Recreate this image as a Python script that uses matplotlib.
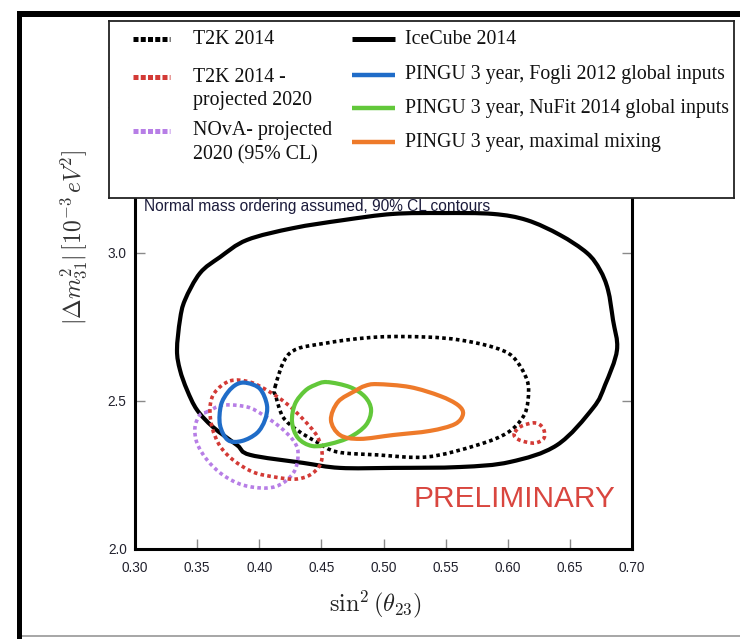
import matplotlib
matplotlib.use("Agg")
import matplotlib.pyplot as plt
from matplotlib.patches import Rectangle, PathPatch
from matplotlib.path import Path

plt.rcParams["mathtext.fontset"] = "cm"

# ---- contour data: sin^2(theta23) vs |dm^2_31| [1e-3 eV^2] ----
icecube_x = [0.5076, 0.5479, 0.5881, 0.6155, 0.6420, 0.6638, 0.6742, 0.6807, 0.6847, 0.6879,
             0.6783, 0.6686, 0.6396, 0.6018, 0.5616, 0.5076, 0.4650, 0.4352, 0.3926, 0.3821,
             0.3628, 0.3499, 0.3419, 0.3362, 0.3338, 0.3362, 0.3402, 0.3523, 0.3684, 0.3901,
             0.4272, 0.4674]
icecube_y = [3.132, 3.135, 3.132, 3.111, 3.061, 3.000, 2.943, 2.875, 2.774, 2.672,
             2.554, 2.476, 2.351, 2.294, 2.277, 2.274, 2.274, 2.291, 2.318, 2.351,
             2.412, 2.470, 2.537, 2.605, 2.672, 2.774, 2.841, 2.932, 2.986, 3.044,
             3.084, 3.111]

t2k_x = [0.4127, 0.4247, 0.4545, 0.4948, 0.5350, 0.5616, 0.5881, 0.6042, 0.6155, 0.6163,
         0.6123, 0.5994, 0.5753, 0.5350, 0.4948, 0.4626, 0.4465, 0.4304, 0.4191, 0.4135]
t2k_y = [2.547, 2.662, 2.696, 2.716, 2.716, 2.706, 2.682, 2.649, 2.571, 2.503,
         2.446, 2.392, 2.351, 2.311, 2.318, 2.328, 2.361, 2.402, 2.446, 2.514]

t2k2020_x = [0.3765, 0.3926, 0.4087, 0.4223, 0.4352, 0.4465, 0.4505, 0.4489, 0.4408, 0.4288,
             0.4127, 0.3950, 0.3789, 0.3684, 0.3620, 0.3604, 0.3644]
t2k2020_y = [2.568, 2.564, 2.530, 2.490, 2.439, 2.382, 2.328, 2.284, 2.250, 2.236,
             2.243, 2.260, 2.301, 2.348, 2.412, 2.480, 2.530]

t2k2020_island_x = [0.6058, 0.6115, 0.6219, 0.6284, 0.6292, 0.6219, 0.6115, 0.6058]
t2k2020_island_y = [2.395, 2.416, 2.426, 2.409, 2.375, 2.358, 2.365, 2.378]

nova_x = [0.3580, 0.3708, 0.3901, 0.4030, 0.4167, 0.4272, 0.4312, 0.4288, 0.4191, 0.4062,
          0.3869, 0.3708, 0.3580, 0.3499, 0.3483, 0.3523]
nova_y = [2.463, 2.486, 2.480, 2.453, 2.412, 2.368, 2.328, 2.267, 2.223, 2.206,
          2.216, 2.250, 2.301, 2.358, 2.412, 2.453]

fogli_x = [0.3901, 0.4006, 0.4062, 0.4046, 0.3982, 0.3861, 0.3748, 0.3684, 0.3692, 0.3748, 0.3821]
fogli_y = [2.561, 2.541, 2.486, 2.436, 2.392, 2.365, 2.368, 2.419, 2.486, 2.530, 2.557]

nufit_x = [0.4545, 0.4730, 0.4851, 0.4900, 0.4859, 0.4730, 0.4569, 0.4425, 0.4312, 0.4264,
           0.4288, 0.4368, 0.4449]
nufit_y = [2.564, 2.547, 2.514, 2.470, 2.419, 2.378, 2.355, 2.348, 2.375, 2.429,
           2.490, 2.534, 2.554]

maxmix_x = [0.4948, 0.5213, 0.5455, 0.5600, 0.5640, 0.5575, 0.5374, 0.5076, 0.4811, 0.4650,
            0.4577, 0.4634, 0.4771, 0.4851]
maxmix_y = [2.557, 2.547, 2.517, 2.486, 2.456, 2.422, 2.399, 2.385, 2.372, 2.385,
            2.436, 2.497, 2.534, 2.551]

x_ticks = [0.30, 0.35, 0.40, 0.45, 0.50, 0.55, 0.60, 0.65, 0.70]
x_tick_labels = ["0.30", "0.35", "0.40", "0.45", "0.50", "0.55", "0.60", "0.65", "0.70"]
y_ticks = [2.0, 2.5, 3.0, 3.5]
y_tick_labels = ["2.0", "2.5", "3.0", "3.5"]

legend_left = [["T2K 2014"], ["T2K 2014 -", "projected 2020"], ["NOvA- projected", "2020 (95% CL)"]]
legend_right = ["IceCube 2014", "PINGU 3 year, Fogli 2012 global inputs",
                "PINGU 3 year, NuFit 2014 global inputs", "PINGU 3 year, maximal mixing"]

C_BLACK = "#000000"
C_RED = "#d33a36"
C_PURPLE = "#b77ee6"
C_BLUE = "#1f6cc8"
C_GREEN = "#62c83a"
C_ORANGE = "#ee7a2a"

W, H = 740, 639
fig = plt.figure(figsize=(W / 100, H / 100), dpi=100)


def fx(px):
    return px / W


def fy(py):
    return 1 - py / H


ax = fig.add_axes([fx(135), fy(549), fx(632) - fx(135), fy(105) - fy(549)])


def smooth_closed_path(xs, ys):
    """Closed Catmull-Rom curve through the contour points, as cubic Bezier segments."""
    n = len(xs)
    verts = [(xs[0], ys[0])]
    codes = [Path.MOVETO]
    for i in range(n):
        p0 = (xs[i - 1], ys[i - 1])
        p1 = (xs[i], ys[i])
        p2 = (xs[(i + 1) % n], ys[(i + 1) % n])
        p3 = (xs[(i + 2) % n], ys[(i + 2) % n])
        c1 = (p1[0] + (p2[0] - p0[0]) / 6, p1[1] + (p2[1] - p0[1]) / 6)
        c2 = (p2[0] - (p3[0] - p1[0]) / 6, p2[1] - (p3[1] - p1[1]) / 6)
        verts += [c1, c2, p2]
        codes += [Path.CURVE4] * 3
    return Path(verts, codes)


def draw_contour(xs, ys, color, lw, dots=False):
    style = (0, (1, 0.9)) if dots else "-"
    patch = PathPatch(smooth_closed_path(xs, ys), fill=False, edgecolor=color,
                      linewidth=lw, linestyle=style, joinstyle="round")
    patch.set_capstyle("butt")
    ax.add_patch(patch)


draw_contour(icecube_x, icecube_y, C_BLACK, 3.0)
draw_contour(t2k_x, t2k_y, C_BLACK, 2.6, dots=True)
draw_contour(nova_x, nova_y, C_PURPLE, 2.6, dots=True)
draw_contour(t2k2020_x, t2k2020_y, C_RED, 2.6, dots=True)
draw_contour(t2k2020_island_x, t2k2020_island_y, C_RED, 2.6, dots=True)
draw_contour(fogli_x, fogli_y, C_BLUE, 3.0)
draw_contour(nufit_x, nufit_y, C_GREEN, 3.0)
draw_contour(maxmix_x, maxmix_y, C_ORANGE, 3.0)

ax.set_xlim(0.30, 0.70)
ax.set_ylim(2.0, 3.5)
ax.set_xticks(x_ticks)
ax.set_xticklabels(x_tick_labels)
ax.set_yticks(y_ticks)
ax.set_yticklabels(y_tick_labels)
ax.tick_params(direction="in", length=7, width=1.0, color="#8a8a8a",
               labelcolor="#22222e", labelsize=9.8, top=True, right=True)
ax.tick_params(axis="x", pad=9)
ax.tick_params(axis="y", pad=6)
for lab in ax.get_xticklabels() + ax.get_yticklabels():
    lab.set_family("Liberation Sans")
for sp in ax.spines.values():
    sp.set_linewidth(2.2)
    sp.set_color("black")

fig.text(fx(74), fy(237), r"$|\Delta m^2_{31}|\,[10^{-3}\,eV^2]$", rotation=90,
         ha="center", va="center", fontsize=17, color="#333333")
fig.text(fx(376), fy(604), r"$\sin^2(\theta_{23})$", ha="center", va="center",
         fontsize=17.5, color="#222222")
fig.text(fx(144), fy(207), "Normal mass ordering assumed, 90% CL contours",
         ha="left", va="center", fontsize=11.2, family="Liberation Sans", color="#1c1c3c")
fig.text(fx(514), fy(499), "PRELIMINARY", ha="center", va="center",
         fontsize=21.4, family="Liberation Sans", color="#d9463f")

# page frame
fig.add_artist(Rectangle((fx(17), fy(17)), 1, fy(11) - fy(17), transform=fig.transFigure,
                         color="black", linewidth=0))
fig.add_artist(Rectangle((fx(17), 0), fx(22) - fx(17), fy(11), transform=fig.transFigure,
                         color="black", linewidth=0))
fig.add_artist(Rectangle((fx(22), fy(637)), 1, 1.6 / H, transform=fig.transFigure,
                         color="#a8a8a8", linewidth=0))

# legend panel drawn in pixel units
lax = fig.add_axes([fx(109), fy(198), fx(734) - fx(109), fy(21) - fy(198)], zorder=5)
lax.set_xlim(109, 734)
lax.set_ylim(198, 21)
lax.set_xticks([])
lax.set_yticks([])
for sp in lax.spines.values():
    sp.set_linewidth(1.3)
    sp.set_color("#222222")

left_colors = [C_BLACK, C_RED, C_PURPLE]
left_rows = [39, 77, 131]
for lines, col, yr in zip(legend_left, left_colors, left_rows):
    lax.plot([133, 170], [yr, yr], color=col, linestyle=(0, (1, 0.45)), linewidth=3.6,
             dash_capstyle="butt")
    for k, line in enumerate(lines):
        lax.text(193, yr + k * 23.5, line, ha="left", va="center", fontsize=14.3,
                 family="Liberation Serif", color="#111111")

right_colors = [C_BLACK, C_BLUE, C_GREEN, C_ORANGE]
right_rows = [39, 75, 108, 142]
for lab, col, yr in zip(legend_right, right_colors, right_rows):
    lax.plot([352, 395], [yr, yr], color=col, linewidth=3.6 if col == C_BLACK else 3.2,
             solid_capstyle="butt")
    lax.text(405, yr, lab, ha="left", va="center", fontsize=14.3,
             family="Liberation Serif", color="#111111")

fig.savefig("out.png", dpi=100)
